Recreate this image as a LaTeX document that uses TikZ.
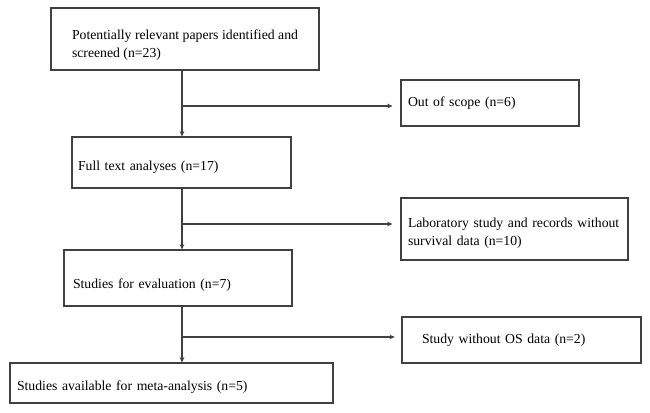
\documentclass[tikz,border=0pt]{standalone}
\usepackage{fontspec}
\setmainfont{Liberation Serif}
\usetikzlibrary{arrows.meta}
\begin{document}
\begin{tikzpicture}[x=0.75pt,y=-0.75pt,
    box/.style={draw=black!75, line width=0.8pt, rectangle, inner ysep=0pt,
      font=\fontsize{10.3}{13.5}\selectfont},
    drop/.style={execute at begin node={\rule{0pt}{#1}}},
    line/.style={draw=black!75, line width=0.8pt},
    arr/.style={line, -{Stealth[length=4pt,width=3.5pt]}}]
  \useasboundingbox (0,0) rectangle (650,413);

  % main column
  \node[box, drop=16pt, minimum width=201pt, minimum height=46.5pt, inner xsep=15.75pt,
    text width=169.5pt, align=justify] (screen) at (185,39)
    {Potentially relevant papers identified and screened (n=23)};
  \node[box, drop=14.5pt, minimum width=164.25pt, minimum height=38.25pt, inner xsep=4.5pt,
    text width=155.25pt, align=left] (full) at (181.5,162.5)
    {Full text analyses (n=17)};
  \node[box, drop=17.5pt, minimum width=171pt, minimum height=42pt, inner xsep=6.75pt,
    text width=157.5pt, align=left] (eval) at (178,278)
    {Studies for evaluation (n=7)};
  \node[box, drop=13pt, minimum width=242.25pt, minimum height=30pt, inner xsep=5.25pt,
    text width=231.75pt, align=left] (meta) at (171.5,383)
    {Studies available for meta-analysis (n=5)};

  % excluded
  \node[box, minimum width=133.5pt, minimum height=34.5pt, inner xsep=5.25pt,
    text width=123pt, align=left] (oos) at (490,103)
    {Out of scope (n=6)};
  \node[box, drop=13pt, minimum width=170.25pt, minimum height=46.5pt, inner xsep=5.25pt,
    text width=159.75pt, align=left] (lab) at (514.5,229)
    {Laboratory study and records without\\survival data (n=10)};
  \node[box, minimum width=179.25pt, minimum height=34.5pt, inner xsep=15pt,
    text width=149.25pt, align=left] (os) at (521.5,340)
    {Study without OS data (n=2)};

  \coordinate (b1) at (182,106);
  \coordinate (b2) at (182,224);
  \coordinate (b3) at (182,337);

  \draw[line] (screen.south -| b1) -- (b1);
  \draw[arr] (b1) -- (full.north -| b1);
  \draw[arr, shorten >=6pt] (b1) -- (b1 -| oos.west);

  \draw[line] (full.south -| b2) -- (b2);
  \draw[arr] (b2) -- (eval.north -| b2);
  \draw[arr, shorten >=6pt] (b2) -- (b2 -| lab.west);

  \draw[line] (eval.south -| b3) -- (b3);
  \draw[arr] (b3) -- (meta.north -| b3);
  \draw[arr, shorten >=5pt] (b3) -- (b3 -| os.west);
\end{tikzpicture}
\end{document}
